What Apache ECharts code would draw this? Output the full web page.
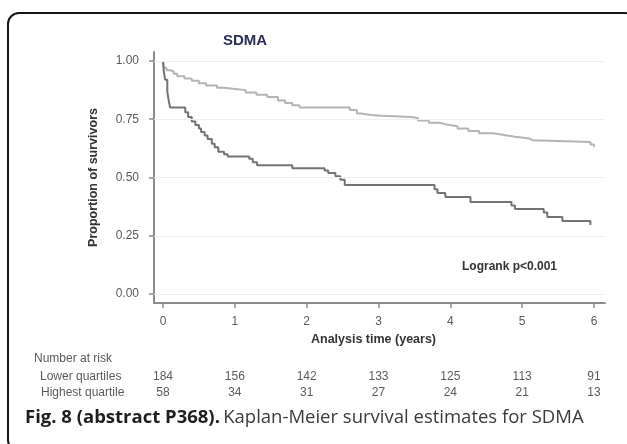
<!DOCTYPE html>
<html>
<head>
<meta charset="utf-8">
<script src="https://cdn.jsdelivr.net/npm/echarts@6/dist/echarts.min.js"></script>
<style>
  html, body { margin: 0; padding: 0; background: #fff; }
  #chart { width: 627px; height: 444px; }
</style>
</head>
<body>
<div id="chart"></div>
<script>
// Kaplan-Meier step estimates: event time (years) and survival proportion after it
const lowerTimes = [0, 0.02, 0.05, 0.1, 0.15, 0.2, 0.3, 0.4, 0.5, 0.6, 0.75, 0.85, 1.0, 1.15, 1.3, 1.45, 1.6, 1.7, 1.8, 1.9,
  2.6, 2.7, 2.75, 2.9, 3.05, 3.45, 3.55, 3.7, 3.85, 3.95, 4.1, 4.25, 4.4, 4.6, 4.75, 4.9, 5.1, 5.15, 5.95, 6.0];
const lowerSurv = [1.0, 0.97, 0.96, 0.955, 0.945, 0.935, 0.925, 0.915, 0.905, 0.895, 0.885, 0.88, 0.875, 0.865, 0.855, 0.845, 0.83, 0.82, 0.81, 0.80,
  0.79, 0.775, 0.768, 0.765, 0.76, 0.755, 0.745, 0.735, 0.727, 0.72, 0.71, 0.70, 0.69, 0.682, 0.675, 0.667, 0.66, 0.652, 0.642, 0.632];

const highTimes = [0, 0.01, 0.03, 0.06, 0.08, 0.1, 0.31, 0.35, 0.4, 0.45, 0.5, 0.53, 0.58, 0.62, 0.68, 0.72, 0.77, 0.85, 0.9, 1.2, 1.25, 1.31,
  1.8, 2.25, 2.3, 2.4, 2.47, 2.53, 3.78, 3.82, 3.93, 4.28, 4.85, 4.9, 5.3, 5.35, 5.56, 5.95];
const highSurv = [1.0, 0.96, 0.92, 0.87, 0.83, 0.80, 0.78, 0.76, 0.74, 0.725, 0.71, 0.695, 0.68, 0.665, 0.645, 0.63, 0.61, 0.60, 0.59, 0.58, 0.565, 0.553,
  0.54, 0.53, 0.519, 0.505, 0.49, 0.468, 0.45, 0.433, 0.416, 0.395, 0.38, 0.365, 0.35, 0.33, 0.313, 0.296];

const xTicks = [0, 1, 2, 3, 4, 5, 6];
const yTicks = [0, 0.25, 0.5, 0.75, 1.0];

const riskTitle = 'Number at risk';
const groupNames = ['Lower quartiles', 'Highest quartile'];
const riskLower = [184, 156, 142, 133, 125, 113, 91];
const riskHighest = [58, 34, 31, 27, 24, 21, 13];

const zip = (a, b) => a.map((v, i) => [v, b[i]]);

const font = 'Arial, "Liberation Sans", sans-serif';
const captionFont = '"Open Sans", "Noto Sans", sans-serif';
const axisGray = '#8c8c8c';
const labelGray = '#5a5a5a';

const chart = echarts.init(document.getElementById('chart'), null, { renderer: 'canvas' });

chart.setOption({
  animation: false,
  backgroundColor: '#fff',
  title: {
    text: 'SDMA',
    left: 240,
    top: 28,
    textAlign: 'center',
    textStyle: { fontFamily: font, fontSize: 15, fontWeight: 'bold', color: '#2b2f57' }
  },
  grid: { left: 154, right: 22, top: 52, bottom: 141 },
  xAxis: {
    type: 'value',
    min: -0.125,
    max: 6.153,
    name: 'Analysis time (years)',
    nameLocation: 'middle',
    nameGap: 29,
    nameTextStyle: { fontFamily: font, fontSize: 12.5, fontWeight: 'bold', color: '#333', padding: [0, 12, 0, 0] },
    axisLine: { onZero: false, lineStyle: { color: axisGray, width: 2 } },
    axisTick: { customValues: xTicks, length: 5, lineStyle: { color: axisGray, width: 1.5 } },
    axisLabel: { customValues: xTicks, margin: 13, fontFamily: font, fontSize: 12, color: labelGray },
    splitLine: { show: false }
  },
  yAxis: {
    type: 'value',
    min: -0.0386,
    max: 1.0386,
    name: 'Proportion of survivors',
    nameLocation: 'middle',
    nameGap: 54,
    nameTextStyle: { fontFamily: font, fontSize: 12.5, fontWeight: 'bold', color: '#333' },
    axisLine: { show: true, onZero: false, lineStyle: { color: axisGray, width: 2 } },
    axisTick: { show: true, customValues: yTicks, length: 5, lineStyle: { color: axisGray, width: 1.5 } },
    axisLabel: {
      customValues: yTicks, margin: 15, fontFamily: font, fontSize: 12, color: labelGray,
      formatter: v => v.toFixed(2)
    },
    splitLine: { show: false }
  },
  series: [
    {
      name: groupNames[0],
      type: 'line',
      step: 'end',
      symbol: 'none',
      data: zip(lowerTimes, lowerSurv),
      lineStyle: { color: '#b4b4b4', width: 2 },
      z: 3,
      markLine: {
        silent: true,
        symbol: 'none',
        label: { show: false },
        lineStyle: { color: '#efefef', width: 1, type: 'solid' },
        data: yTicks.map(v => ({ yAxis: v }))
      }
    },
    {
      name: groupNames[1],
      type: 'line',
      step: 'end',
      symbol: 'none',
      data: zip(highTimes, highSurv),
      lineStyle: { color: '#737373', width: 2 },
      z: 4
    }
  ]
});

// Risk table, Logrank note, caption and frame
const xPix = xTicks.map(t => chart.convertToPixel({ xAxisIndex: 0 }, t));

const small = { fontFamily: font, fontSize: 12, fill: labelGray };
const graphics = [];

graphics.push({
  type: 'rect',
  shape: { x: 8, y: 13, width: 628, height: 437, r: [11, 11, 10, 10] },
  style: { fill: 'none', stroke: '#151515', lineWidth: 2 },
  silent: true
});

graphics.push({
  type: 'text', x: 34, y: 359,
  style: Object.assign({}, small, { text: riskTitle, verticalAlign: 'middle' })
});
graphics.push({
  type: 'text', x: 40, y: 377,
  style: Object.assign({}, small, { text: groupNames[0], verticalAlign: 'middle' })
});
graphics.push({
  type: 'text', x: 41, y: 393,
  style: Object.assign({}, small, { text: groupNames[1], verticalAlign: 'middle' })
});
xPix.forEach((px, i) => {
  graphics.push({
    type: 'text', x: px, y: 377,
    style: Object.assign({}, small, { text: String(riskLower[i]), align: 'center', verticalAlign: 'middle' })
  });
  graphics.push({
    type: 'text', x: px, y: 393,
    style: Object.assign({}, small, { text: String(riskHighest[i]), align: 'center', verticalAlign: 'middle' })
  });
});

graphics.push({
  type: 'text', x: 462, y: 267,
  style: { text: 'Logrank p<0.001', fontFamily: font, fontSize: 12, fontWeight: 'bold', fill: '#333', verticalAlign: 'middle' }
});

graphics.push({
  type: 'text', x: 25, y: 418,
  style: {
    text: '{b|Fig. 8 (abstract P368).} {r|Kaplan-Meier survival estimates for SDMA}',
    verticalAlign: 'middle',
    rich: {
      b: { fontFamily: captionFont, fontSize: 18.5, fontWeight: 'bold', fill: '#1e1e1e' },
      r: { fontFamily: captionFont, fontSize: 18.5, fill: '#3a3a3a' }
    }
  }
});

chart.setOption({ graphic: graphics });
</script>
</body>
</html>
